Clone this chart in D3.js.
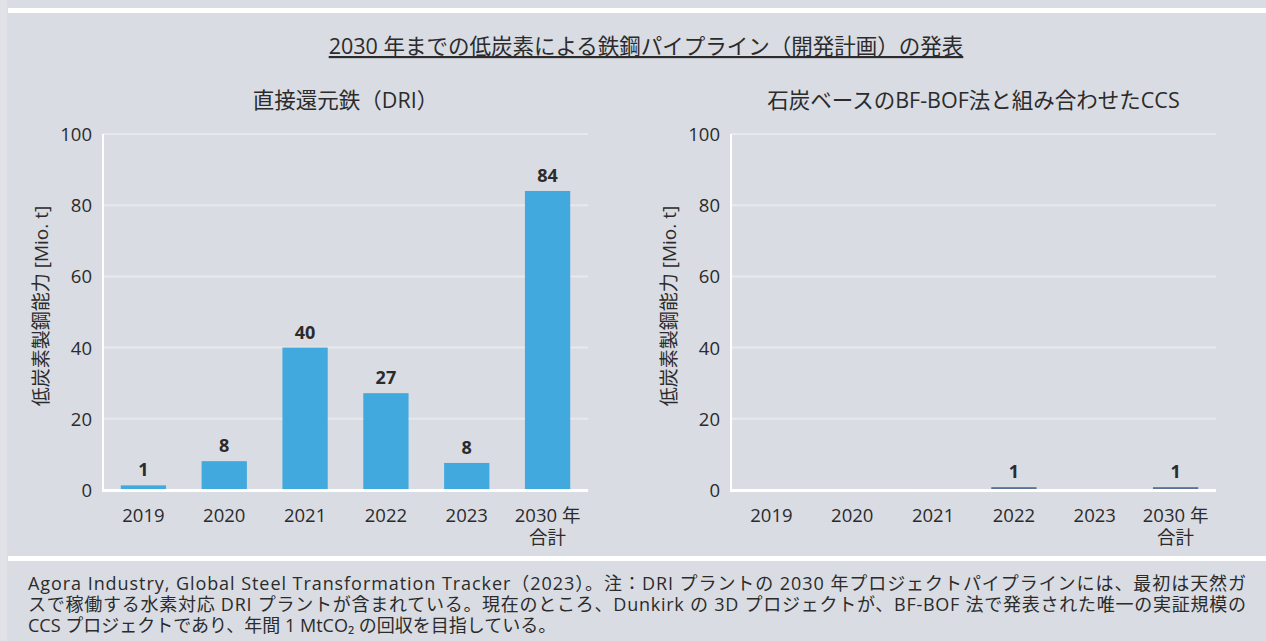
<!DOCTYPE html>
<html>
<head>
<meta charset="utf-8">
<script src="https://cdn.jsdelivr.net/npm/d3@7"></script>
<style>
  body { margin: 0; background: #d9dce3; }
  svg text { fill: #2b2b2b; }
</style>
</head>
<body>
<svg id="chart" width="1266" height="641"></svg>
<script>
// data
var categories = ["2019", "2020", "2021", "2022", "2023", "2030 年|合計"];
var driValues = [1.3, 8.1, 40, 27.2, 7.6, 84];
var driLabels = ["1", "8", "40", "27", "8", "84"];
var ccsValues = [0, 0, 0.3, 0.8, 0, 0.8];
var ccsLabels = ["", "", "", "1", "", "1"];
var ccsColors = ["#5a7198", "#5a7198", "#c9cdd8", "#5a7198", "#5a7198", "#5a7198"];
var yTicks = [0, 20, 40, 60, 80, 100];

var mainTitle = "2030 年までの低炭素による鉄鋼パイプライン（開発計画）の発表";
var driTitle = "直接還元鉄（DRI）";
var ccsTitle = "石炭ベースのBF-BOF法と組み合わせたCCS";
var yLabel = "低炭素製鋼能力 [Mio. t]";
var footLines = [
  "Agora Industry, Global Steel Transformation Tracker（2023）。注：DRI プラントの 2030 年プロジェクトパイプラインには、最初は天然ガ",
  "スで稼働する水素対応 DRI プラントが含まれている。現在のところ、Dunkirk の 3D プロジェクトが、BF-BOF 法で発表された唯一の実証規模の",
  "CCS プロジェクトであり、年間 1 MtCO₂ の回収を目指している。"
];

var FONT = "'Open Sans', 'Noto Sans CJK JP', sans-serif";
var svg = d3.select("#chart");

// background + frame bands
svg.append("rect").attr("width", 1266).attr("height", 641).attr("fill", "#d9dce3");
svg.append("rect").attr("x", 0).attr("y", 0).attr("width", 7).attr("height", 641).attr("fill", "#e0e2e7");
svg.append("rect").attr("x", 8).attr("y", 8).attr("width", 1258).attr("height", 5).attr("fill", "#ffffff");
svg.append("rect").attr("x", 8).attr("y", 556).attr("width", 1258).attr("height", 5).attr("fill", "#ffffff");

svg.append("text")
  .attr("x", 646).attr("y", 54)
  .attr("text-anchor", "middle")
  .style("font-family", FONT).style("font-size", "21.5px")
  .style("text-decoration", "underline")
  .text(mainTitle);

var plotW = 485, plotH = 356, plotTop = 134;

function drawPanel(left, title, values, labels, colors) {
  var g = svg.append("g").attr("transform", "translate(" + left + "," + plotTop + ")");

  var x = d3.scaleBand().domain(categories).range([0, plotW])
    .paddingInner(0.44).paddingOuter(0.22);
  var y = d3.scaleLinear().domain([0, 100]).range([plotH, 0]);

  // gridlines
  g.selectAll("line.grid")
    .data(yTicks.filter(function(d) { return d > 0; }))
    .enter().append("line")
    .attr("class", "grid")
    .attr("x1", 0).attr("x2", plotW)
    .attr("y1", function(d) { return y(d); })
    .attr("y2", function(d) { return y(d); })
    .attr("stroke", "#e7e9ed").attr("stroke-width", 2);

  // y tick labels
  g.selectAll("text.ytick")
    .data(yTicks)
    .enter().append("text")
    .attr("class", "ytick")
    .attr("x", -11)
    .attr("y", function(d) { return y(d) + 7; })
    .attr("text-anchor", "end")
    .style("font-family", FONT).style("font-size", "18.5px")
    .text(function(d) { return d; });

  // bars
  g.selectAll("rect.bar")
    .data(values)
    .enter().append("rect")
    .attr("class", "bar")
    .attr("x", function(d, i) { return x(categories[i]); })
    .attr("width", x.bandwidth())
    .attr("y", function(d) { return y(d); })
    .attr("height", function(d) { return plotH - y(d); })
    .attr("fill", function(d, i) { return colors[i]; });

  // value labels
  g.selectAll("text.val")
    .data(values)
    .enter().append("text")
    .attr("class", "val")
    .attr("x", function(d, i) { return x(categories[i]) + x.bandwidth() / 2; })
    .attr("y", function(d) { return y(d) - 9; })
    .attr("text-anchor", "middle")
    .style("font-family", FONT).style("font-size", "18px").style("font-weight", "bold")
    .text(function(d, i) { return labels[i]; });

  // axis lines
  g.append("line").attr("x1", 0).attr("x2", 0).attr("y1", 0).attr("y2", plotH + 2)
    .attr("stroke", "#ffffff").attr("stroke-width", 2);
  g.append("line").attr("x1", -1).attr("x2", plotW).attr("y1", plotH + 0.5).attr("y2", plotH + 0.5)
    .attr("stroke", "#ffffff").attr("stroke-width", 3);

  // x tick labels (two lines where needed)
  var xt = g.selectAll("text.xtick")
    .data(categories)
    .enter().append("text")
    .attr("class", "xtick")
    .attr("text-anchor", "middle")
    .style("font-family", FONT).style("font-size", "18.5px");
  xt.selectAll("tspan")
    .data(function(d) { return d.split("|").map(function(s) { return { s: s, c: d }; }); })
    .enter().append("tspan")
    .attr("x", function(d) { return x(d.c) + x.bandwidth() / 2; })
    .attr("y", function(d, i) { return plotH + 32 + i * 22; })
    .text(function(d) { return d.s; });

  // panel title
  g.append("text")
    .attr("x", plotW / 2).attr("y", -26)
    .attr("text-anchor", "middle")
    .style("font-family", FONT).style("font-size", "21.5px")
    .text(title);

  // y axis label
  g.append("text")
    .attr("transform", "translate(" + -55 + "," + 172 + ") rotate(-90)")
    .attr("text-anchor", "middle")
    .style("font-family", FONT).style("font-size", "19px")
    .text(yLabel);
}

drawPanel(103, driTitle, driValues, driLabels, driValues.map(function() { return "#42a9df"; }));
drawPanel(731, ccsTitle, ccsValues, ccsLabels, ccsColors);

// source / note
var foot = svg.append("text")
  .style("font-family", FONT)
  .style("font-size", "18px");
foot.selectAll("tspan")
  .data(footLines)
  .enter().append("tspan")
  .attr("x", 28)
  .attr("y", function(d, i) { return 590 + i * 21; })
  .attr("textLength", function(d, i) { return i < 2 ? 1218 : null; })
  .attr("lengthAdjust", "spacing")
  .text(function(d) { return d; });
</script>
</body>
</html>
